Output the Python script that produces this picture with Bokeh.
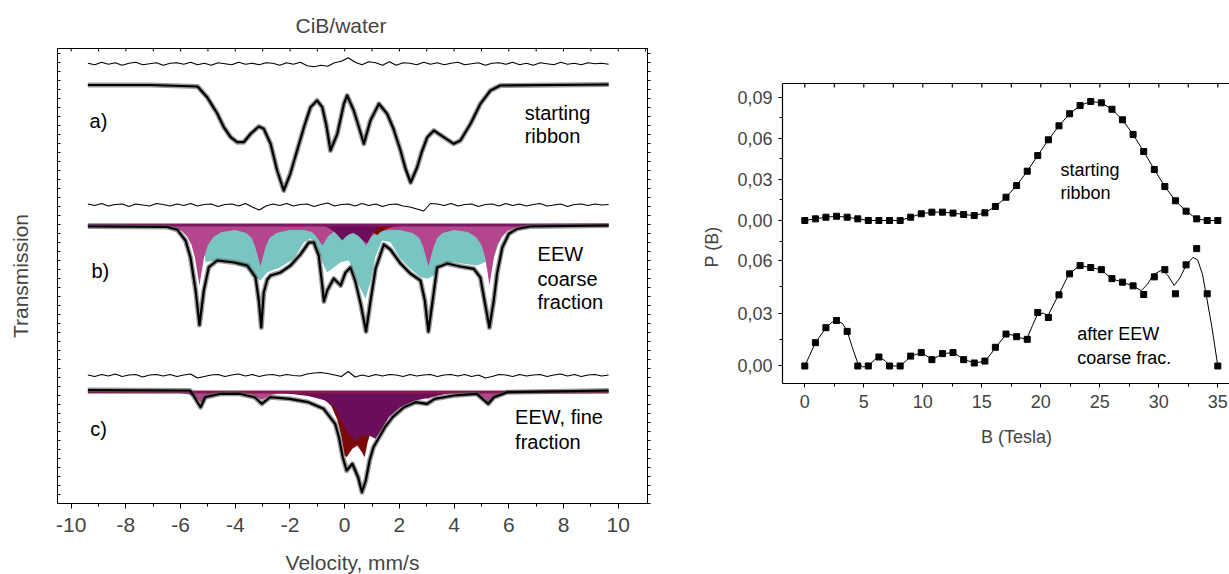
import numpy as np
from bokeh.plotting import figure
from bokeh.models import Range1d, LinearAxis, FixedTicker, Title, CustomJSTickFormatter
from bokeh.layouts import row
from bokeh.embed import file_html
from bokeh.resources import INLINE
from bokeh.core.properties import value

FONT = "Liberation Sans"

# ---------------- left panel: Mossbauer spectra (velocity in mm/s, absorption depth in arbitrary units) -------
# stacking offsets (arbitrary transmission units)
RES_A, DATA_A = 439.7, 418.5
RES_B, BASE_B, DATA_B = 298.5, 278.5, 277.0
RES_C, BASE_C, DATA_C = 128.0, 111.5, 113.5

# a) starting ribbon
a_v = [-9.39, -7.10, -5.38, -5.03, -4.66, -4.42, -4.17, -3.93, -3.69, -3.44, -3.14, -2.96, -2.71, -2.47, -2.23,
       -1.99, -1.74, -1.49, -1.25, -1.01, -0.82, -0.67, -0.52, -0.27, -0.03, 0.09, 0.33, 0.50, 0.70, 0.94, 1.25,
       1.55, 1.78, 2.04, 2.22, 2.41, 2.65, 2.81, 3.02, 3.26, 3.62, 3.99, 4.23, 4.60, 4.96, 5.33, 5.69, 9.65]
a_depth = [0, 0, 1.5, 12.2, 28.5, 42.2, 52.2, 57.2, 57.2, 48.8, 41.5, 43.8, 58.8, 85.5, 105.5, 88.8, 65.5, 42.2,
           22.2, 15.5, 22.2, 40.5, 65.5, 48.8, 18.8, 10.5, 25.5, 40.5, 58.8, 35.5, 18.8, 28.8, 43.5, 65.5, 83.5,
           97.5, 82.2, 67.5, 52.2, 45.5, 52.2, 58.8, 55.5, 38.8, 18.8, 5.5, 0.5, -0.5]

# b) EEW coarse fraction
b_v = [-9.39, -6.49, -6.12, -5.82, -5.64, -5.45, -5.31, -5.15, -4.97, -4.66, -4.05, -3.56, -3.26, -3.14, -3.05,
       -2.96, -2.83, -2.71, -2.35, -1.98, -1.62, -1.31, -1.13, -0.95, -0.82, -0.76, -0.64, -0.40, -0.15, 0.03,
       0.21, 0.39, 0.58, 0.78, 0.94, 1.13, 1.43, 1.67, 2.04, 2.40, 2.77, 2.93, 3.06, 3.20, 3.38, 3.75, 4.23, 4.72,
       4.96, 5.11, 5.29, 5.45, 5.57, 5.76, 6.00, 6.30, 6.79, 9.65]
b_depth = [0, 0.5, 3.3, 14, 30.7, 64, 98.5, 64, 40.7, 34, 36, 39, 51, 74, 101, 66, 53, 49, 46, 39, 28, 16, 16, 29,
           59, 75, 64, 52, 59, 46, 41, 55, 77, 105, 75, 42, 18, 23, 37, 47, 54, 74, 105, 77, 41, 37, 40, 42.3, 51,
           74, 101, 74, 47, 21, 7.3, 2.3, 0, -1]
teal_b_v = [-5.22, -5.14, -5.09, -4.66, -4.05, -3.56, -3.20, -3.08, -2.83, -2.35, -1.86, -1.49, -1.25, -1.01,
            -0.82, -0.64, -0.46, -0.15, 0.15, 0.33, 0.58, 0.76, 0.94, 1.13, 1.37, 1.67, 2.04, 2.40, 2.77, 3.02,
            3.26, 3.50, 3.99, 4.35, 4.84, 5.27, 5.45, 5.63, 5.82, 6.06, 6.43]
teal_b_d = [0, 25, 37, 35.5, 38.5, 43.8, 53.8, 55.5, 47.2, 42.2, 33.8, 17.2, 13.8, 20.5, 37.2, 47.2, 43.8, 37.2,
            35.5, 47.2, 63.8, 73.8, 57.2, 30.5, 15.5, 17.2, 33.8, 43.8, 52.2, 53.8, 50.5, 38.8, 37.2, 38.8, 40.5,
            35.5, 32.2, 18.8, 7.2, 2.2, 0]
mag_b_v = [-9.39, -6.8, -6.3, -5.95, -5.75, -5.6, -5.48, -5.40, -5.31, -5.22, -5.14, -5.0, -4.8, -4.5, -4.0, -3.6,
           -3.4, -3.27, -3.17, -3.08, -2.99, -2.89, -2.75, -2.5, -2.0, -1.5, -1.2, -1.05, -0.93, -0.82, -0.71, -0.6,
           -0.4, 0.0, 0.35, 0.55, 0.67, 0.78, 0.89, 1.0, 1.2, 1.6, 2.0, 2.48, 2.73, 2.87, 2.97, 3.06, 3.15, 3.25,
           3.38, 3.58, 4.0, 4.5, 4.8, 5.0, 5.13, 5.21, 5.29, 5.38, 5.46, 5.58, 5.75, 5.95, 6.3, 6.8, 9.65]
mag_b_d = [0, 0.5, 2, 6, 12, 20, 32, 45, 60.5, 45, 32, 20, 12, 7, 5, 8, 13, 22, 32, 41.5, 32, 22, 13, 8, 5, 5, 7,
           11, 16, 20.5, 16, 11, 7, 6, 7, 11, 16, 20.5, 16, 11, 7, 5, 5, 8, 13, 22, 32, 41.5, 32, 22, 13, 8, 5, 7,
           12, 20, 32, 45, 60.5, 45, 32, 20, 12, 6, 2, 0.5, 0]
pur_b_v = [-0.81, -0.59, -0.37, -0.23, -0.09, 0.03, 0.18, 0.32, 0.50, 0.69, 0.82, 0.94, 1.09, 1.24, 1.45]
pur_b_d = [0, 3, 7, 11, 15.5, 12, 9, 8, 11, 16, 18, 12, 6, 2, 0]
red_b_v = [0.70, 0.90, 1.06, 1.19, 1.31, 1.55, 1.79, 2.04, 2.40, 2.77]
red_b_d = [0, 5, 8, 10, 7, 3.5, 1.8, 1.0, 0.5, 0]

# c) EEW fine fraction
c_v = [-9.39, -5.66, -5.53, -5.27, -5.10, -4.54, -3.85, -3.29, -3.03, -2.73, -2.02, -1.33, -0.77, -0.35, -0.21,
       -0.07, 0.07, 0.28, 0.49, 0.63, 0.77, 0.91, 1.05, 1.19, 1.47, 1.75, 2.17, 2.59, 3.01, 3.29, 3.99, 4.83, 5.25,
       5.46, 5.95, 9.65]
c_depth = [0, 0.5, 5.5, 17.2, 7.2, 3.8, 3.8, 7.2, 13.8, 7.2, 8.8, 12.2, 18.8, 33.8, 47.2, 67.2, 80.5, 73.8, 87.2,
           102.2, 90.5, 70.5, 57.2, 50.5, 37.2, 27.2, 17.2, 12.2, 13.8, 8.8, 5.5, 3.8, 13.8, 7.2, 2.2, 0.5]
mag_c_v = [-9.39, -6.3, -5.75, -5.48, -5.38, -5.27, -5.16, -5.06, -4.8, -4.3, -3.6, -3.3, -3.15, -3.03, -2.91,
           -2.76, -2.4, -1.5, -1.0, -0.8, -0.6, 0.0, 0.6, 0.8, 1.0, 2.0, 2.7, 2.9, 3.03, 3.16, 3.35, 3.9, 4.8, 5.06,
           5.16, 5.27, 5.38, 5.48, 5.75, 6.3, 9.65]
mag_c_d = [0, 0.3, 2, 5, 7.5, 10.2, 7.5, 5, 2, 1, 1.5, 3.5, 6, 7.8, 6, 3.5, 1.5, 1, 2, 3, 2, 1, 2, 3, 2, 1.5, 3.5,
           5.5, 7, 5.5, 3, 1, 2, 5, 7.5, 10.2, 7.5, 5, 2, 0.3, 0]
red_c_v = [-1.6, -0.91, -0.49, -0.28, -0.14, 0.0, 0.07, 0.28, 0.46, 0.63, 0.73, 0.84, 0.98, 1.19, 1.47, 1.89, 2.45,
           2.87, 3.5]
red_c_d = [0, 3, 14, 27, 42, 63.5, 65.2, 56.8, 53.5, 60.2, 65.2, 50, 38, 26, 16, 8, 3.5, 1.5, 0]
pur_c_v = [-3.3, -2.02, -1.33, -0.77, -0.49, -0.28, -0.07, 0.10, 0.25, 0.42, 0.60, 0.75, 0.90, 1.12, 1.33, 1.61,
           2.03, 2.59, 3.15, 3.71, 4.6]
pur_c_d = [0, 1.8, 4, 8, 12, 20, 32, 40, 45, 48.5, 44, 43, 43.5, 46.8, 38.5, 25.2, 15.2, 8.5, 5.2, 1.8, 0]

# residuals (deviation, arbitrary units) on a regular velocity grid from -9.39 to 9.65 mm/s
res_a = [0.5, -1, 1.5, -0.5, 1, -1.5, 0.5, 1.5, -1, 0, 1, -1.5, 0.5, 1, -0.5, 1.5, -1, 0.5, -1.5, 1, 0, -1, 1.5,
         -0.5, 0.5, -1, 1, 0.5, -1.5, 1, -0.5, 1.5, -2, -3, -1.5, -2.5, 1, 2.5, 6, 1.5, -1, 2, 1, -1.5, 2, -1.5, 1,
         0.5, -1, 1.5, -0.5, 1, -1, 0.5, 1.5, -1, 0, 1, -1.5, 0.5, 1, -0.5, 1.5, -1, 0.5, -1.5, 1, 0, -1, 1.5, -0.5,
         0.5, -1, 1, 0, 0.5, -0.5]
res_b = [1, -0.5, 1.5, -1, 0.5, 1, -1.5, 1, 0, -1, 1.5, 0.5, -1, 1, -0.5, 1.5, -1, 0.5, 1, -1.5, 0.5, 1, -1, 1.5,
         -2, -5, -1, 1, -0.5, 1.5, -1, 0.5, 1, -1.5, 0.5, 2, -1, 0.5, 1, -1, 1.5, -0.5, 1, -1.5, 0.5, 1, -1, -2, -4,
         -6, 1.5, 1, -0.5, 1.5, -1, 0.5, 1, -1.5, 0.5, 1, -1, 1.5, -0.5, 1, -1, 0.5, 1.5, -1, 0, 1, -1.5, 0.5, 1,
         -0.5, 1, 0, 0.5]
res_c = [0.5, -1, 1, -0.5, 1.5, -1, 0.5, 1, -1.5, 0.5, 1, -0.5, 1, -1, 0.5, 1.5, -2.5, -1, 0.5, 1, -1, 0.5, 1.5,
         -0.5, 1, -1, 0.5, 1, -0.5, 1, 0, -0.5, 1.5, 2.5, 3, 2, 0.5, -1, 4, -1.5, 0.5, -1, 1, -0.5, 1, 0.5, -1, 1,
         -0.5, 0.5, 1, -1, 0.5, 1, -0.5, 1, -1, 0.5, -2.5, -1, 1, 0.5, -1, 1, -0.5, 0.5, 1, -1, 0.5, 1.5, -0.5, 1,
         -1, 0.5, 1, -0.5, 0.5]
V_START, V_END = -9.39, 9.65

vel_ticks = [-10, -8, -6, -4, -2, 0, 2, 4, 6, 8, 10]
vel_top_ticks = list(range(-10, 12))

# left panel annotations
ann_x = [-9.33, 6.58, 6.58, -9.26, 7.05, 7.05, 7.05, -9.30, 6.23, 6.23]
ann_y = [383.0, 391.0, 368.0, 233.0, 249.7, 224.7, 201.3, 74.7, 86.3, 61.3]
ann_t = ["a)", "starting", "ribbon", "b)", "EEW", "coarse", "fraction", "c)", "EEW, fine", "fraction"]

# ---------------- right panel: P(B) distributions -----------------
B = [0, 0.9, 1.79, 2.69, 3.59, 4.49, 5.38, 6.28, 7.18, 8.08, 8.97, 9.87, 10.77, 11.67, 12.56, 13.46, 14.36, 15.26,
     16.15, 17.05, 17.95, 18.85, 19.74, 20.64, 21.54, 22.44, 23.33, 24.23, 25.13, 26.03, 26.92, 27.82, 28.72, 29.62,
     30.51, 31.41, 32.31, 33.21, 34.10, 35.0]
P_start = [0.000, 0.0012, 0.0024, 0.0031, 0.0024, 0.0012, 0.000, 0.000, 0.000, 0.000, 0.0024, 0.0049, 0.0061,
           0.0061, 0.0054, 0.0044, 0.0036, 0.0056, 0.0102, 0.0170, 0.0255, 0.0360, 0.0474, 0.0589, 0.0691, 0.0779,
           0.0839, 0.0869, 0.0859, 0.0812, 0.0735, 0.0628, 0.0504, 0.0372, 0.0248, 0.0144, 0.0068, 0.0012, 0.0, 0.0]
P_eew = [0, 0.0132, 0.0217, 0.0258, 0.0196, 0, 0, 0.0051, 0, 0, 0.0056, 0.0076, 0.0036, 0.0070, 0.0076, 0.0036,
         0.0017, 0.0028, 0.0106, 0.0181, 0.0166, 0.0151, 0.0303, 0.0275, 0.0403, 0.0522, 0.0569, 0.0558, 0.0546,
         0.0495, 0.0475, 0.0454, 0.0405, 0.0505, 0.0546, 0.0409, 0.0573, 0.0665, 0.0409, 0]
curve_B = [0, 0.9, 1.8, 2.3, 2.7, 3.2, 3.6, 4.0, 4.5, 4.9, 5.4, 5.9, 6.3, 6.8, 7.2, 8.1, 8.5, 9.0, 9.9, 10.8, 11.7,
           12.6, 13.5, 14.4, 15.3, 16.2, 17.0, 17.5, 17.9, 18.8, 19.3, 19.7, 20.2, 20.6, 21.5, 22.4, 23.3, 24.2,
           25.1, 26.0, 26.9, 27.8, 28.5, 29.0, 29.6, 30.3, 30.8, 31.3, 31.8, 32.3, 32.9, 33.3, 33.7, 34.0, 34.5, 35.0]
curve_P = [0, 0.0132, 0.0217, 0.0248, 0.0258, 0.0240, 0.0196, 0.0110, 0.0015, -0.0005, 0.0, 0.0035, 0.0051, 0.0030,
           0.0, 0.0, 0.0025, 0.0056, 0.0076, 0.0036, 0.0070, 0.0076, 0.0036, 0.0017, 0.0028, 0.0106, 0.0175, 0.0177,
           0.0166, 0.0151, 0.0230, 0.0290, 0.0300, 0.0285, 0.0403, 0.0522, 0.0569, 0.0558, 0.0546, 0.0495, 0.0475,
           0.0454, 0.0427, 0.0460, 0.0520, 0.0545, 0.0510, 0.0456, 0.0500, 0.0569, 0.0616, 0.0600, 0.0520, 0.0409,
           0.0220, 0.0]
p_ticks = [0.0, 0.03, 0.06, 0.09]
p_minor = [-0.015, 0.015, 0.045, 0.075]
p_labels = ["0,00", "0,03", "0,06", "0,09"]
b_ticks = [0, 5, 10, 15, 20, 25, 30, 35]
b_top_ticks = [t * 2.5 for t in range(0, 16)]
P_TOP_EDGE = 0.1          # upper end of the upper P(B) scale (top edge of the panel)

MAGENTA = "#b4468e"
TEAL = "#79c5c2"
PURPLE = "#6c0d59"
DRED = "#7b0b0b"
BASECOL = "#7c1a63"

# ================= left figure =================
L = figure(frame_width=590, frame_height=455, x_range=Range1d(-10.5, 11.07), y_range=Range1d(0, 455),
           output_backend="svg", toolbar_location=None, title="CiB/water",
           min_border_left=57, min_border_right=39, min_border_top=48, min_border_bottom=93)
L.grid.visible = False
L.outline_line_color = "black"
L.title.align = "left"
L.title.offset = 238
L.title.standoff = 23
L.title.text_font = FONT
L.title.text_font_size = "21px"
L.title.text_font_style = "normal"

def vfill(fig, xs, base, depth, color):
    xs = np.array(xs, dtype=float)
    d = np.array(depth, dtype=float)
    fig.varea(x=xs, y1=np.full(len(xs), base), y2=base - d, fill_color=color, fill_alpha=1.0)

def dataline(fig, xs, base, depth):
    ys = base - np.array(depth, dtype=float)
    fig.line(xs, ys, color="#555555", line_width=5, line_alpha=0.6, line_join="round")
    fig.line(xs, ys, color="black", line_width=2.2, line_join="round")

# residuals
for res, off in ((res_a, RES_A), (res_b, RES_B), (res_c, RES_C)):
    rxs = np.linspace(V_START, V_END, len(res))
    L.line(rxs, off + np.array(res, dtype=float), color="black", line_width=1.1)

# spectrum a
dataline(L, a_v, DATA_A, a_depth)

# spectrum b components
vfill(L, teal_b_v, BASE_B, teal_b_d, TEAL)
vfill(L, mag_b_v, BASE_B, mag_b_d, MAGENTA)
vfill(L, red_b_v, BASE_B, red_b_d, DRED)
vfill(L, pur_b_v, BASE_B, pur_b_d, PURPLE)
L.line([V_START, V_END], [BASE_B, BASE_B], color=BASECOL, line_width=3)
dataline(L, b_v, DATA_B, b_depth)

# spectrum c components
vfill(L, mag_c_v, BASE_C, mag_c_d, MAGENTA)
vfill(L, red_c_v, BASE_C, red_c_d, DRED)
vfill(L, pur_c_v, BASE_C, pur_c_d, PURPLE)
L.line([V_START, V_END], [BASE_C, BASE_C], color="#8a1a4e", line_width=3)
dataline(L, c_v, DATA_C, c_depth)

L.text(x=ann_x, y=ann_y, text=ann_t, text_font=value(FONT), text_font_size="20px",
       text_baseline="middle", text_align="left", text_color="black")

# inward tick marks along the top edge of the frame (one per mm/s)
ytop = L.y_range.end
L.segment(x0=vel_top_ticks, y0=[ytop] * len(vel_top_ticks), x1=vel_top_ticks,
          y1=[ytop - 3] * len(vel_top_ticks), line_color="black", line_width=1)

# axes
ax = L.xaxis[0]
ax.ticker = FixedTicker(ticks=vel_ticks, minor_ticks=[t + 1 for t in vel_ticks[:-1]])
ax.formatter = CustomJSTickFormatter(code="return tick.toFixed(0);")
ax.axis_label = "Velocity, mm/s"
ax.axis_label_text_font = FONT
ax.axis_label_text_font_size = "21px"
ax.axis_label_text_font_style = "normal"
ax.axis_label_standoff = 16
ax.major_label_text_font = FONT
ax.major_label_text_font_size = "21px"
ax.major_label_standoff = 9
ax.major_tick_out = 5
ax.major_tick_in = 0
ax.minor_tick_out = 3
ax.minor_tick_in = 0

ay = L.yaxis[0]
ay.ticker = FixedTicker(ticks=[], minor_ticks=list(range(0, 456, 9)))
ay.minor_tick_in = 3
ay.minor_tick_out = 0
ay.axis_label = "Transmission"
ay.axis_label_text_font = FONT
ay.axis_label_text_font_size = "21px"
ay.axis_label_text_font_style = "normal"
ay.axis_label_standoff = 26

right_ax = LinearAxis(ticker=FixedTicker(ticks=[], minor_ticks=list(range(0, 456, 9))),
                      minor_tick_in=0, minor_tick_out=3)
L.add_layout(right_ax, "right")

# ================= right figure =================
# frame spans the same height as the left one (row layouts share borders); the P(B) panel
# itself occupies only its lower part, below the upper edge at P_TOP_EDGE.
lo = Range1d(-0.00992, 0.17989)
top_rng = Range1d(-0.11898, 0.12555)
R = figure(frame_width=468, frame_height=335, x_range=Range1d(-1.89, 37.77), y_range=lo,
           output_backend="svg", toolbar_location=None,
           min_border_left=96, min_border_right=0, min_border_top=48, min_border_bottom=93)
R.extra_y_ranges = {"top": top_rng}
R.grid.visible = False
R.outline_line_color = None

def to_lo(u):
    return lo.start + (u - top_rng.start) * (lo.end - lo.start) / (top_rng.end - top_rng.start)

edge_lo = to_lo(P_TOP_EDGE)
px_per_lo = 335.0 / (lo.end - lo.start)

R.line(B, P_start, y_range_name="top", color="black", line_width=1)
R.scatter(B, P_start, y_range_name="top", marker="square", size=6, color="black")
R.line(curve_B, curve_P, color="black", line_width=1)
R.scatter(B, P_eew, marker="square", size=6, color="black")

R.text(x=[21.67, 21.67], y=[0.0365, 0.0204], text=["starting", "ribbon"], y_range_name="top",
       text_font=value(FONT), text_font_size="18px", text_baseline="middle", text_align="left")
R.text(x=[23.08, 23.08], y=[0.0180, 0.00425], text=["after EEW", "coarse frac."],
       text_font=value(FONT), text_font_size="18px", text_baseline="middle", text_align="left")

# upper edge of the P(B) panel with inward ticks every 2.5 T
R.line([R.x_range.start, R.x_range.end], [edge_lo, edge_lo], color="black", line_width=1.2)
R.segment(x0=b_top_ticks, y0=[edge_lo] * len(b_top_ticks), x1=b_top_ticks,
          y1=[edge_lo - 4.0 / px_per_lo] * len(b_top_ticks), line_color="black", line_width=1.2)

tick_pos = list(p_ticks[:3]) + [to_lo(u) for u in p_ticks]
tick_lab = list(p_labels[:3]) + list(p_labels)
minor_pos = [p_minor[1], p_minor[2]] + [to_lo(u) for u in p_minor]

ry = R.yaxis[0]
ry.bounds = (lo.start, edge_lo)
ry.ticker = FixedTicker(ticks=tick_pos, minor_ticks=minor_pos)
ry.formatter = CustomJSTickFormatter(args=dict(pos=tick_pos, labs=tick_lab), code="""
let best = 0; let bd = 1e9;
for (let i = 0; i < pos.length; i++) { const d = Math.abs(pos[i] - tick); if (d < bd) { bd = d; best = i; } }
return labs[best];
""")
ry.major_label_text_font = FONT
ry.major_label_text_font_size = "18px"
ry.major_label_standoff = 6
ry.major_tick_out = 4
ry.major_tick_in = 0
ry.minor_tick_out = 3
ry.minor_tick_in = 0
ry.axis_line_width = 1.2

rx = R.xaxis[0]
rx.ticker = FixedTicker(ticks=b_ticks, minor_ticks=[t + 2.5 for t in b_ticks])
rx.major_label_text_font = FONT
rx.major_label_text_font_size = "18px"
rx.major_label_standoff = 7
rx.major_tick_out = 4
rx.major_tick_in = 0
rx.minor_tick_out = 3
rx.minor_tick_in = 0
rx.axis_line_width = 1.2
rx.axis_label = "B (Tesla)"
rx.axis_label_text_font = FONT
rx.axis_label_text_font_size = "18px"
rx.axis_label_text_font_style = "normal"
rx.axis_label_standoff = 16

R.add_layout(Title(text="P (B)", align="left", offset=116, standoff=26, text_font=FONT,
                   text_font_size="18px", text_font_style="normal"), "left")

layout = row(L, R)
try:
    from bokeh.models import GlobalInlineStyleSheet
    layout.stylesheets = [GlobalInlineStyleSheet(css="html, body { overflow: hidden; margin: 0; }")]
except Exception:
    pass

open("out.html", "w").write(file_html(layout, INLINE))
